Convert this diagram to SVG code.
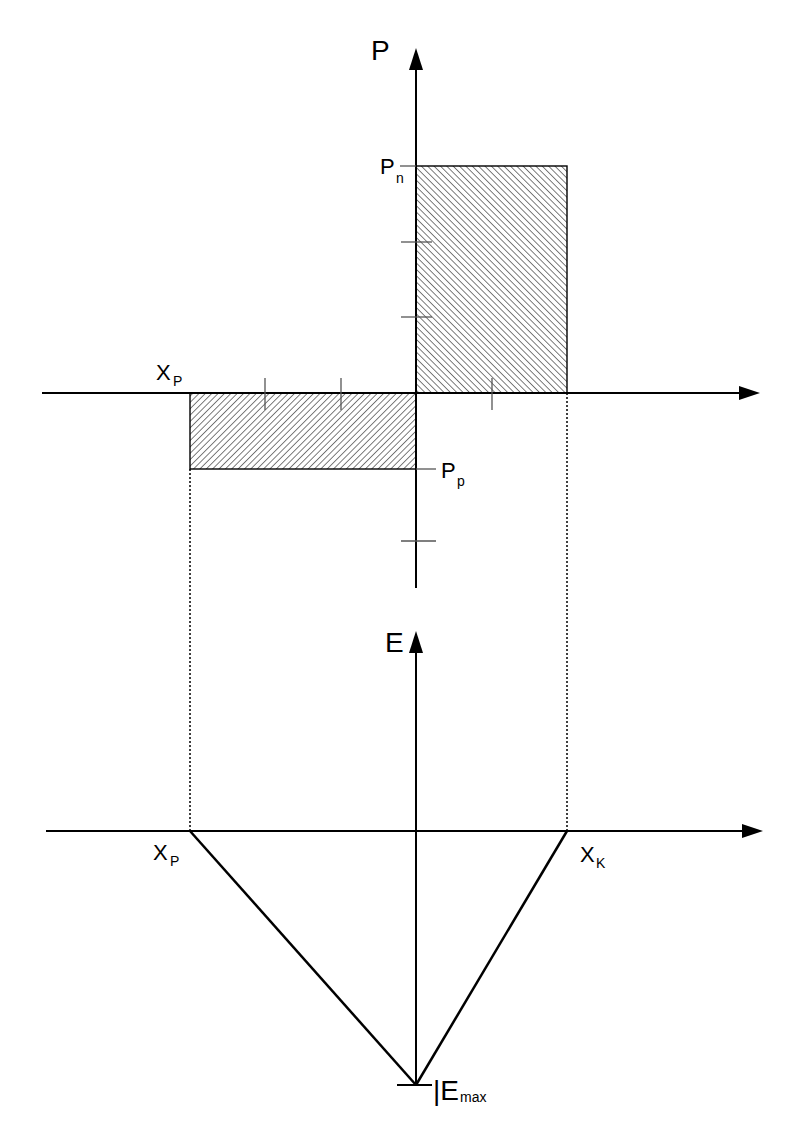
<svg xmlns="http://www.w3.org/2000/svg" width="794" height="1123" viewBox="0 0 794 1123">
<defs>
<pattern id="hatchR" patternUnits="userSpaceOnUse" width="4.5" height="4.5" patternTransform="rotate(-45)">
<line x1="0" y1="0" x2="0" y2="4.5" stroke="#111" stroke-width="1.1"/>
</pattern>
<pattern id="hatchL" patternUnits="userSpaceOnUse" width="4.5" height="4.5" patternTransform="rotate(45)">
<line x1="0" y1="0" x2="0" y2="4.5" stroke="#111" stroke-width="1.1"/>
</pattern>
</defs>
<style>
.ax{stroke:#000;stroke-width:2;fill:none}
.tk{stroke:#555;stroke-width:1.3}
.dot{stroke:#000;stroke-width:1.5;stroke-dasharray:2 2;fill:none}
.ln{stroke:#000;stroke-width:2.5;fill:none}
.rect{stroke:#000;stroke-width:1.4}
.ah{fill:#000}
text{font-family:"Liberation Sans",Arial,sans-serif;fill:#000}
.big{font-size:28px}
.mid{font-size:22px}
.sub{font-size:14px}
</style>
<rect width="794" height="1123" fill="#fff"/>
<g id="regions">
<rect class="rect" x="416" y="166" width="151" height="227" fill="url(#hatchR)"/>
<rect class="rect" x="190" y="393" width="226" height="76" fill="url(#hatchL)"/>
</g>
<g id="connectors">
<line class="dot" x1="190" y1="469" x2="190" y2="831"/>
<line class="dot" x1="567" y1="393" x2="567" y2="831"/>
<line class="ln" x1="190" y1="831" x2="416" y2="1085"/>
<line class="ln" x1="567" y1="831" x2="416" y2="1085"/>
</g>
<g id="axes">
<line class="ax" x1="416" y1="588" x2="416" y2="66"/>
<polygon class="ah" points="416,48 409,70 423,70"/>
<line class="ax" x1="42" y1="393" x2="742" y2="393"/>
<polygon class="ah" points="760,393 739,386 739,400"/>
<line class="ax" x1="416" y1="1085" x2="416" y2="650"/>
<polygon class="ah" points="416,631 409,653 423,653"/>
<line class="ax" x1="46" y1="831" x2="745" y2="831"/>
<polygon class="ah" points="763,831 742,824 742,838"/>
</g>
<g id="ticks">
<line class="tk" x1="400" y1="166" x2="416" y2="166"/>
<line class="tk" x1="401" y1="242" x2="432" y2="242"/>
<line class="tk" x1="401" y1="317" x2="432" y2="317"/>
<line class="tk" x1="416" y1="469" x2="436" y2="469"/>
<line class="tk" x1="401" y1="541" x2="436" y2="541"/>
<line class="tk" x1="265" y1="378" x2="265" y2="410"/>
<line class="tk" x1="341" y1="378" x2="341" y2="410"/>
<line class="tk" x1="492" y1="378" x2="492" y2="410"/>
<line class="ax" x1="397" y1="1085" x2="432" y2="1085"/>
</g>
<g id="labels">
<text class="big" x="371" y="60">P</text>
<text class="mid" x="380" y="174">P</text>
<text class="sub" x="396" y="183">n</text>
<text class="mid" x="156" y="380">X</text>
<text class="sub" x="173" y="386">P</text>
<text class="mid" x="441" y="478">P</text>
<text class="sub" x="457" y="486">p</text>
<text class="big" x="385" y="652">E</text>
<text class="mid" x="153" y="860">X</text>
<text class="sub" x="170" y="866">P</text>
<text class="mid" x="580" y="862">X</text>
<text class="sub" x="596" y="868">K</text>
<text class="big" x="433" y="1100">|E</text>
<text class="sub" x="460" y="1102">max</text>
</g>
</svg>
